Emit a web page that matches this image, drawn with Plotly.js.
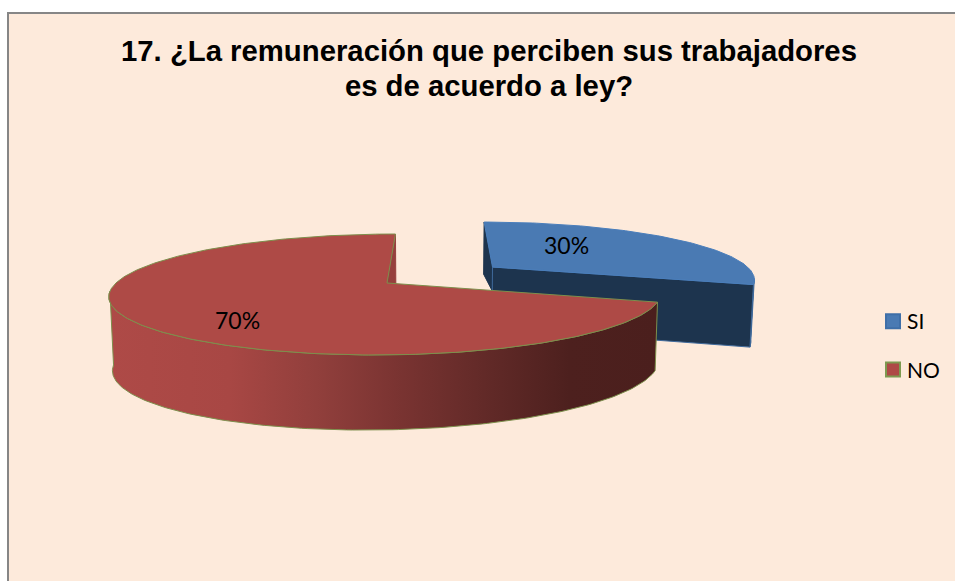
<!DOCTYPE html>
<html>
<head>
<meta charset="utf-8">
<script src="https://cdn.plot.ly/plotly-3.0.1.min.js"></script>
<style>html,body{margin:0;padding:0;background:#fff}#chart{width:955px;height:581px}</style>
</head>
<body>
<div id="chart"></div>
<script>
// ---- data ----
const categories = ['SI', 'NO'];
const values = [30, 70];
const titleLines = ['17. ¿La remuneración que perciben sus trabajadores', 'es de acuerdo a ley?'];

// ---- styles ----
const BG = '#fdeadb', FRAME = '#868686';
const topColor = ['#4a7ab3', '#ae4a46'];
const edgeColor = ['#4a7ebb', '#7d8f4c'];
const swatchEdge = ['#3f6fa8', '#7d9a50'];
const SI_DARK = '#1d344e', SI_DARK_EDGE = '#3f6a9c', NO_CUT = '#96403d';
const sideRamp = [[0, '#ae4a47'], [0.22, '#a84744'], [0.38, '#913f3c'], [0.52, '#7b3432'],
                  [0.7, '#602927'], [0.84, '#4d201e'], [1, '#4b1f1d']];

// ---- perspective projection of a tilted, exploded pie (pixel axes) ----
const VX = 440, K = 0.19, BOTTOM_SCALE = 0.989;
const slices = [
  {ax: 492.5, ay: 267, R: 255, S: 53.5, D: 61, dk: 1.197, tilt: 2, sideFrom: 102},
  {ax: 387,   ay: 283, R: 271, S: 58.3, D: 70, dk: 1.07,  tilt: 3, sideTo: 262}
];
const shares = values.map(v => v / values.reduce((a, b) => a + b, 0) * 360);
const starts = shares.map((_, i) => shares.slice(0, i).reduce((a, b) => a + b, 0));

function project(s, deg, f = 1) {
  const t = deg * Math.PI / 180, u = f * Math.sin(t), v = -f * Math.cos(t), w = 1 - K * v;
  return {x: VX + (s.ax - VX + s.R * u) / w, y: s.ay + s.S * v / w, u};
}
function below(s, p) {
  return {x: VX + (p.x - VX) * BOTTOM_SCALE, y: s.ay + s.D + s.dk * (p.y - s.ay) - s.tilt * p.u};
}
function arc(s, a, b) {
  const pts = [], n = Math.max(2, Math.round(Math.abs(b - a)));
  for (let i = 0; i <= n; i++) pts.push(project(s, a + (b - a) * i / n));
  return pts;
}
function poly(pts, color, line, extra) {
  const c = pts.concat([pts[0]]);
  return Object.assign({
    type: 'scatter', mode: 'lines', x: c.map(p => p.x), y: c.map(p => p.y),
    fill: 'toself', fillcolor: color, line: {color: line, width: 1},
    hoverinfo: 'skip', showlegend: false
  }, extra || {});
}

const traces = [];
// SI slice
{
  const s = slices[0], a = starts[0], b = a + shares[0];
  const apex = {x: s.ax, y: s.ay, u: 0}, apexB = below(s, apex);
  const rim = arc(s, a, b), c0 = rim[0], c1 = rim[rim.length - 1];
  const midB = {x: apex.x, y: apex.y + 0.4 * (apexB.y - apex.y)};
  traces.push(poly([c0, below(s, c0), midB, apex], SI_DARK, SI_DARK));
  const vis = arc(s, s.sideFrom, b);
  traces.push(poly(vis.concat(vis.slice().reverse().map(p => below(s, p))), SI_DARK, SI_DARK_EDGE));
  traces.push(poly([apex, c1, below(s, c1), apexB], SI_DARK, SI_DARK_EDGE));
  traces.push(poly([apex].concat(rim), topColor[0], edgeColor[0]));
}
// NO slice
{
  const s = slices[1], a = starts[1], b = a + shares[1];
  const apex = {x: s.ax, y: s.ay, u: 0}, apexB = below(s, apex);
  const rim = arc(s, a, b), c1 = rim[rim.length - 1];
  traces.push(poly([c1, below(s, c1), apexB, apex], NO_CUT, NO_CUT));
  const vis = arc(s, a, s.sideTo);
  const side = vis.concat(vis.slice().reverse().map(p => below(s, p)));
  const xs = side.map(p => p.x);
  traces.push(poly(side, topColor[1], edgeColor[1], {
    fillcolor: undefined,
    fillgradient: {type: 'horizontal', colorscale: sideRamp, start: Math.min(...xs), stop: Math.max(...xs)}
  }));
  traces.push(poly([apex].concat(rim), topColor[1], edgeColor[1]));
}
// legend entries
categories.forEach((c, i) => traces.push({
  type: 'scatter', mode: 'markers', x: [null], y: [null], name: c, legendgroup: c,
  marker: {symbol: 'square', size: 14, color: topColor[i], line: {color: swatchEdge[i], width: 2}},
  hoverinfo: 'skip'
}));

const labelFont = {family: 'Lato, Carlito, sans-serif', size: 23, color: '#000'};
const labelAt = [[566, 245], [237, 320]];
const layout = {
  width: 955, height: 581,
  margin: {l: 0, r: 0, t: 0, b: 0, pad: 0},
  paper_bgcolor: '#fff', plot_bgcolor: 'rgba(0,0,0,0)',
  title: {
    text: titleLines.map(t => '<span style="font-size:29.3px">' + t + '</span>').join('<br>'),
    x: 489 / 955, xanchor: 'center', xref: 'paper',
    y: 1 - 61 / 581, yanchor: 'top', yref: 'paper',
    font: {family: 'Liberation Sans, Arial, sans-serif', size: 27, color: '#000', weight: 700}
  },
  xaxis: {range: [0, 955], visible: false, fixedrange: true},
  yaxis: {range: [581, 0], visible: false, fixedrange: true},
  shapes: [{type: 'rect', layer: 'below', xref: 'x', yref: 'y', x0: 8, y0: 13, x1: 965, y1: 595,
            fillcolor: BG, line: {color: FRAME, width: 2}}],
  annotations: values.map((v, i) => ({
    text: v + '%', x: labelAt[i][0], y: labelAt[i][1], xref: 'x', yref: 'y',
    showarrow: false, font: labelFont, xanchor: 'center', yanchor: 'middle'
  })),
  showlegend: true,
  legend: {
    x: 867 / 955, xanchor: 'left', y: 1 - 301 / 581, yanchor: 'top',
    bgcolor: 'rgba(0,0,0,0)', borderwidth: 0, tracegroupgap: 18,
    font: {family: 'Lato, Carlito, sans-serif', size: 21, color: '#000'},
    itemsizing: 'trace', itemclick: false, itemdoubleclick: false
  }
};
Plotly.newPlot('chart', traces, layout, {displayModeBar: false, staticPlot: true}).then(() => {
  // the reference keeps its swatches closer to the text than Plotly's fixed item width
  document.querySelectorAll('.legend .legendsymbols').forEach(g => g.setAttribute('transform', 'translate(6,0)'));
});
</script>
</body>
</html>
